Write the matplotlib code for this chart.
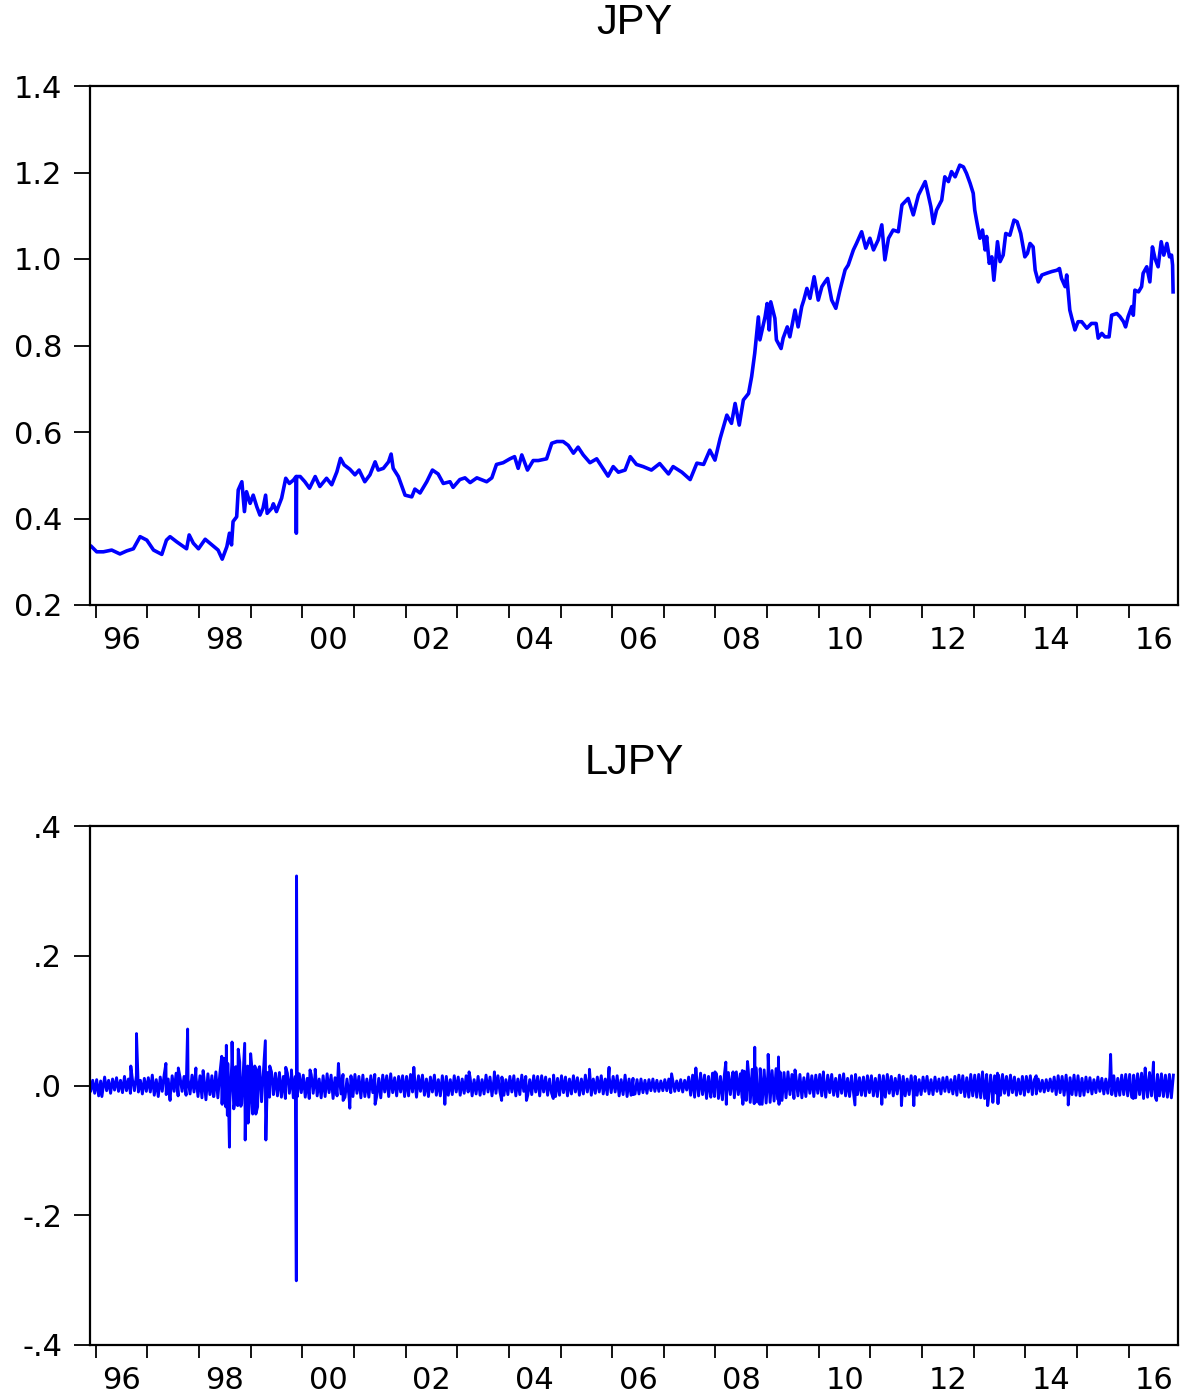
import numpy as np
import matplotlib
matplotlib.use("Agg")
import matplotlib.pyplot as plt
from matplotlib.ticker import NullLocator

# ---------------------------------------------------------------
# JPY level (decimal year, value)
# ---------------------------------------------------------------
jpy_t = [
    1995.92, 1996.02, 1996.15, 1996.31, 1996.47, 1996.60, 1996.73, 1996.86, 1996.99,
    1997.12, 1997.28, 1997.37, 1997.44, 1997.57, 1997.70, 1997.76, 1997.81, 1997.89, 1997.99,
    1998.12, 1998.25, 1998.37, 1998.45, 1998.54, 1998.59, 1998.63, 1998.66, 1998.73, 1998.76,
    1998.83, 1998.88, 1998.92, 1998.99, 1999.05, 1999.12, 1999.18, 1999.24, 1999.29, 1999.32,
    1999.41, 1999.44, 1999.50, 1999.60, 1999.68, 1999.75, 1999.83, 1999.88, 1999.885, 1999.89,
    1999.96, 2000.05, 2000.14, 2000.25, 2000.34, 2000.47, 2000.57, 2000.67, 2000.74, 2000.81,
    2000.92, 2001.02, 2001.10, 2001.21, 2001.31, 2001.41, 2001.47, 2001.57, 2001.67, 2001.72,
    2001.76, 2001.86, 2001.99, 2002.12, 2002.18, 2002.28, 2002.41, 2002.52, 2002.63, 2002.73,
    2002.86, 2002.92, 2003.05, 2003.15, 2003.25, 2003.38, 2003.57, 2003.67, 2003.76, 2003.89,
    2004.02, 2004.11, 2004.18, 2004.25, 2004.36, 2004.47, 2004.57, 2004.73, 2004.83, 2004.93,
    2005.05, 2005.15, 2005.25, 2005.34, 2005.44, 2005.57, 2005.70, 2005.80, 2005.92, 2006.02,
    2006.12, 2006.25, 2006.35, 2006.47, 2006.60, 2006.76, 2006.92, 2007.09, 2007.18, 2007.35,
    2007.51, 2007.64, 2007.77, 2007.89, 2007.99, 2008.09, 2008.22, 2008.31, 2008.38, 2008.46,
    2008.54, 2008.64, 2008.70, 2008.76, 2008.83, 2008.86, 2008.96, 2009.00, 2009.04, 2009.07,
    2009.15, 2009.18, 2009.27, 2009.31, 2009.39, 2009.44, 2009.54, 2009.60, 2009.67, 2009.71,
    2009.77, 2009.83, 2009.91, 2009.99, 2010.06, 2010.12, 2010.17, 2010.25, 2010.33, 2010.41,
    2010.51, 2010.57, 2010.67, 2010.73, 2010.83, 2010.91, 2010.99, 2011.06, 2011.15, 2011.22,
    2011.28, 2011.35, 2011.44, 2011.54, 2011.61, 2011.73, 2011.83, 2011.93, 2012.06, 2012.10,
    2012.17, 2012.22, 2012.28, 2012.38, 2012.44, 2012.51, 2012.57, 2012.64, 2012.73, 2012.80,
    2012.86, 2012.93, 2012.99, 2013.02, 2013.06, 2013.12, 2013.17, 2013.22, 2013.25, 2013.30,
    2013.35, 2013.39, 2013.46, 2013.51, 2013.57, 2013.62, 2013.70, 2013.78, 2013.84, 2013.91,
    2013.99, 2014.04, 2014.09, 2014.15, 2014.19, 2014.25, 2014.32, 2014.41, 2014.51, 2014.61,
    2014.66, 2014.70, 2014.77, 2014.80, 2014.83, 2014.86, 2014.90, 2014.96, 2015.02, 2015.09,
    2015.19, 2015.28, 2015.37, 2015.41, 2015.48, 2015.54, 2015.62, 2015.67, 2015.77, 2015.83,
    2015.90, 2015.94, 2015.99, 2016.06, 2016.09, 2016.12, 2016.19, 2016.25, 2016.28, 2016.35,
    2016.41, 2016.46, 2016.51, 2016.57, 2016.63, 2016.68, 2016.74, 2016.79, 2016.83, 2016.85,
    2016.86,
]
jpy_v = [
    0.335, 0.323, 0.323, 0.327, 0.318, 0.325, 0.330, 0.358, 0.350,
    0.327, 0.317, 0.350, 0.358, 0.346, 0.335, 0.330, 0.362, 0.343, 0.330,
    0.352, 0.339, 0.327, 0.306, 0.335, 0.366, 0.339, 0.393, 0.404, 0.466,
    0.485, 0.416, 0.462, 0.435, 0.454, 0.427, 0.408, 0.424, 0.454, 0.412,
    0.424, 0.434, 0.416, 0.447, 0.493, 0.481, 0.489, 0.497, 0.366, 0.497,
    0.497, 0.485, 0.470, 0.497, 0.474, 0.493, 0.478, 0.508, 0.539, 0.524,
    0.514, 0.501, 0.512, 0.485, 0.501, 0.531, 0.512, 0.516, 0.531, 0.549,
    0.516, 0.497, 0.454, 0.450, 0.468, 0.459, 0.485, 0.512, 0.503, 0.481,
    0.485, 0.472, 0.490, 0.494, 0.483, 0.494, 0.485, 0.494, 0.525, 0.529,
    0.538, 0.543, 0.516, 0.547, 0.512, 0.534, 0.534, 0.538, 0.574, 0.578,
    0.578, 0.569, 0.551, 0.565, 0.547, 0.529, 0.538, 0.520, 0.498, 0.520,
    0.507, 0.512, 0.543, 0.525, 0.520, 0.512, 0.527, 0.503, 0.520, 0.507,
    0.490, 0.528, 0.525, 0.558, 0.535, 0.585, 0.639, 0.620, 0.666, 0.616,
    0.674, 0.689, 0.728, 0.782, 0.866, 0.813, 0.866, 0.897, 0.836, 0.901,
    0.863, 0.813, 0.793, 0.817, 0.843, 0.820, 0.882, 0.843, 0.890, 0.905,
    0.932, 0.909, 0.959, 0.905, 0.936, 0.947, 0.955, 0.905, 0.886, 0.928,
    0.975, 0.986, 1.021, 1.036, 1.063, 1.025, 1.048, 1.021, 1.044, 1.079,
    0.998, 1.048, 1.067, 1.063, 1.125, 1.140, 1.102, 1.148, 1.179, 1.159,
    1.121, 1.082, 1.113, 1.136, 1.190, 1.179, 1.202, 1.190, 1.217, 1.213,
    1.198, 1.175, 1.152, 1.113, 1.086, 1.048, 1.067, 1.021, 1.052, 0.990,
    1.005, 0.951, 1.040, 0.994, 1.009, 1.059, 1.055, 1.090, 1.086, 1.059,
    1.005, 1.013, 1.036, 1.028, 0.974, 0.947, 0.963, 0.967, 0.971, 0.974,
    0.978, 0.955, 0.936, 0.963, 0.921, 0.882, 0.863, 0.836, 0.855, 0.855,
    0.840, 0.851, 0.851, 0.817, 0.828, 0.820, 0.820, 0.870, 0.874, 0.867,
    0.855, 0.843, 0.867, 0.890, 0.870, 0.928, 0.924, 0.936, 0.967, 0.982,
    0.947, 1.028, 1.001, 0.982, 1.040, 1.009, 1.036, 1.005, 1.009, 0.986,
    0.924,
]

# ---------------------------------------------------------------
# LJPY: background band of returns, in percent, 26 readings a year
# ---------------------------------------------------------------
ljpy_1995 = [1.1, -0.9, 0.8, -1.2]
ljpy_1996 = [0.9, -1.6, 0.7, -0.9, 1.3, -0.8, 0.8, -1.2, 1.0, -0.7, 1.2, -0.9, 0.8,
             -1.1, 1.4, -0.8, 1.0, -1.2, 0.9, -0.8, 1.5, -1.0, 0.8, -1.3, 1.1, -0.9]
ljpy_1997 = [1.2, -1.0, 1.6, -1.5, 0.9, -1.7, 1.3, -0.9, 1.7, -1.4, 1.0, -1.8, 1.5,
             -0.9, 1.9, -1.6, 1.2, -0.9, 1.4, -1.5, 1.0, -1.3, 1.6, -1.0, 1.3, -1.7]
ljpy_1998 = [1.5, -1.9, 1.2, -2.2, 1.8, -1.4, 1.5, -1.7, 2.1, -1.9, 1.8, -2.7, 3.0,
             -3.3, 3.4, -2.6, 3.2, -3.6, 2.9, -3.1, 3.6, -2.8, 3.3, -3.4, 3.0, -2.5]
ljpy_1999 = [3.2, -2.8, 2.6, -3.3, 2.9, -2.5, 2.3, -3.0, 2.0, -1.8, 2.1, -1.4, 1.9,
             -1.6, 2.0, -1.8, 1.4, -2.0, 1.9, -1.2, 1.6, -1.9, 1.4, -1.7, 1.8, -1.1]
ljpy_2000 = [1.6, -1.8, 1.1, -2.0, 1.7, -1.2, 1.9, -1.6, 1.0, -1.9, 1.5, -1.7, 1.8,
             -1.1, 1.6, -2.0, 1.2, -1.6, 1.9, -1.3, 1.7, -1.8, 1.0, -1.6, 1.5, -1.7]
ljpy_2001 = [1.7, -1.2, 1.4, -1.9, 1.6, -1.7, 1.0, -1.8, 1.5, -1.1, 1.7, -1.6, 1.1,
             -1.9, 1.6, -1.0, 1.5, -1.7, 1.8, -1.1, 1.2, -1.6, 1.4, -1.0, 1.5, -1.7]
ljpy_2002 = [1.4, -1.6, 1.7, -1.0, 1.3, -1.8, 1.5, -0.9, 1.6, -1.5, 1.0, -1.7, 1.3,
             -1.0, 1.6, -1.5, 0.9, -1.6, 1.5, -1.0, 1.4, -1.5, 0.9, -1.4, 1.5, -1.0]
ljpy_2003 = [1.3, -1.5, 1.0, -1.2, 1.5, -1.0, 1.2, -1.6, 0.9, -1.3, 1.4, -1.5, 0.9,
             -1.3, 1.6, -1.0, 1.3, -1.6, 1.0, -1.2, 1.5, -1.0, 1.3, -1.5, 0.9, -1.4]
ljpy_2004 = [1.4, -1.0, 1.5, -1.6, 1.0, -1.4, 1.6, -0.9, 1.4, -1.5, 0.9, -1.4, 1.5,
             -1.0, 1.4, -1.6, 1.5, -1.0, 1.3, -1.5, 1.0, -1.2, 1.6, -1.7, 1.1, -1.5]
ljpy_2005 = [1.5, -1.1, 1.3, -1.6, 1.0, -1.3, 1.5, -1.0, 1.2, -1.5, 1.0, -1.3, 1.6,
             -1.0, 1.3, -1.5, 1.0, -1.2, 1.3, -1.0, 1.5, -1.3, 1.0, -1.4, 1.3, -1.1]
ljpy_2006 = [1.4, -1.0, 1.5, -1.6, 0.9, -1.4, 1.6, -1.7, 1.0, -1.5, 1.1, -1.3, 0.9,
             -1.3, 1.0, -1.1, 0.8, -1.2, 0.9, -0.8, 1.0, -0.9, 0.8, -0.9, 0.7, -0.8]
ljpy_2007 = [0.9, -0.8, 1.0, -1.1, 0.8, -0.9, 0.7, -0.8, 0.9, -1.0, 0.8, -0.7, 1.3,
             -1.5, 1.6, -1.8, 1.3, -1.6, 1.9, -1.4, 1.6, -2.0, 1.4, -1.6, 1.9, -1.7]
ljpy_2008 = [1.8, -2.0, 1.4, -2.2, 1.7, -1.9, 2.0, -1.4, 1.6, -1.9, 2.1, -1.4, 1.8,
             -2.0, 2.2, -2.3, 2.4, -2.6, 2.5, -2.8, 2.7, -2.5, 2.6, -2.9, 2.4, -2.7]
ljpy_2009 = [2.5, -2.6, 2.3, -2.4, 2.6, -2.2, 2.1, -2.3, 2.0, -1.9, 2.1, -1.4, 1.7,
             -2.0, 1.4, -1.6, 1.7, -1.9, 1.2, -1.7, 1.8, -1.2, 1.5, -1.7, 1.6, -1.2]
ljpy_2010 = [1.7, -1.6, 1.2, -1.8, 1.6, -1.1, 1.7, -1.5, 1.1, -1.7, 1.6, -1.2, 1.8,
             -1.6, 1.1, -1.7, 1.5, -1.2, 1.7, -1.4, 1.2, -1.5, 1.3, -1.6, 1.5, -1.1]
ljpy_2011 = [1.5, -1.6, 1.1, -1.7, 1.6, -1.1, 1.5, -1.8, 1.7, -1.2, 1.4, -1.6, 1.1,
             -1.3, 1.6, -1.1, 1.4, -1.6, 1.0, -1.4, 1.5, -1.0, 1.4, -1.5, 0.9, -1.4]
ljpy_2012 = [1.3, -0.9, 1.4, -1.3, 0.9, -1.4, 1.3, -0.9, 1.0, -1.3, 1.2, -0.9, 1.3,
             -1.0, 0.9, -1.3, 1.4, -1.5, 1.6, -1.1, 1.5, -1.7, 1.2, -1.8, 1.7, -1.6]
ljpy_2013 = [1.6, -1.8, 1.7, -1.9, 1.8, -2.0, 1.7, -1.9, 1.6, -1.8, 1.5, -1.2, 1.6,
             -1.5, 1.7, -1.2, 1.4, -1.5, 1.6, -1.1, 1.3, -1.5, 1.0, -1.3, 1.4, -1.5]
ljpy_2014 = [1.4, -1.0, 1.5, -1.4, 0.9, -1.3, 1.0, -0.9, 0.8, -1.0, 0.9, -0.8, 1.0,
             -0.9, 1.3, -1.4, 1.5, -1.1, 1.4, -1.5, 1.6, -1.7, 1.2, -1.4, 1.6, -1.5]
ljpy_2015 = [1.5, -1.6, 1.1, -1.5, 1.3, -1.0, 1.2, -1.3, 0.9, -1.1, 1.3, -0.9, 1.1,
             -1.3, 1.0, -1.2, 1.3, -1.4, 1.5, -1.6, 1.1, -1.5, 1.6, -1.4, 1.7, -1.6]
ljpy_2016 = [1.7, -1.8, 1.6, -1.9, 1.8, -1.4, 1.9, -2.0, 1.7, -1.8, 2.0, -1.6, 1.8,
             -1.9, 1.7, -1.6, 1.8, -1.7, 1.6, -1.8, 1.7, -1.9, 1.6]

ljpy_years = [ljpy_1995, ljpy_1996, ljpy_1997, ljpy_1998, ljpy_1999, ljpy_2000,
              ljpy_2001, ljpy_2002, ljpy_2003, ljpy_2004, ljpy_2005, ljpy_2006,
              ljpy_2007, ljpy_2008, ljpy_2009, ljpy_2010, ljpy_2011, ljpy_2012,
              ljpy_2013, ljpy_2014, ljpy_2015, ljpy_2016]

# large single-day moves in LJPY (decimal year, return)
spike_t = [
    1996.12, 1996.68, 1996.79, 1997.36, 1997.44, 1997.60, 1997.78, 1997.94, 1998.08, 1998.28,
    1998.44, 1998.45, 1998.48, 1998.53, 1998.55, 1998.59, 1998.64, 1998.70, 1998.76, 1998.81,
    1998.885, 1998.895, 1998.95, 1999.00, 1999.04, 1999.08, 1999.10, 1999.15, 1999.21,
    1999.285, 1999.295, 1999.37, 1999.44, 1999.68, 1999.79, 1999.885, 1999.889,
    2000.15, 2000.25, 2000.70, 2000.79, 2000.92, 2001.41,
    2002.16, 2002.76, 2003.23, 2003.72, 2003.86, 2004.34, 2004.86, 2005.56, 2005.94, 2006.41,
    2007.15, 2007.62, 2007.91, 2007.99, 2008.20, 2008.21, 2008.34, 2008.52, 2008.53, 2008.62,
    2008.76, 2008.77, 2008.86, 2009.02, 2009.22, 2009.23, 2009.54,
    2010.09, 2010.70, 2011.22, 2011.60, 2011.84, 2013.17, 2013.27, 2013.37, 2013.46, 2013.47,
    2014.21, 2014.83, 2015.65, 2016.09, 2016.32, 2016.48, 2016.54,
]
spike_v = [
    -0.017, 0.030, 0.080, 0.034, -0.023, 0.027, 0.087, 0.027, 0.023, -0.017,
    0.045, -0.029, 0.042, 0.062, -0.046, -0.095, 0.067, -0.023, 0.056, -0.032,
    0.065, -0.084, -0.058, 0.049, -0.044, 0.030, -0.044, 0.024, -0.023,
    0.069, -0.084, 0.030, -0.014, 0.028, 0.024, -0.301, 0.323,
    0.024, 0.025, 0.034, -0.023, -0.035, -0.029,
    0.028, -0.029, 0.021, 0.021, -0.023, -0.023, -0.020, 0.025, 0.028, -0.014,
    0.018, 0.027, -0.018, 0.021, 0.036, -0.029, 0.021, 0.023, -0.029, 0.037,
    0.059, -0.026, -0.029, 0.048, 0.044, -0.029, 0.024,
    0.021, -0.030, -0.029, -0.031, -0.031, 0.021, -0.031, -0.026, 0.019, -0.028,
    0.015, -0.030, 0.048, -0.020, 0.027, 0.036, -0.023,
]

# ---------------------------------------------------------------
# assemble the LJPY series
# ---------------------------------------------------------------
band_t, band_v = [], []
for k, vals in enumerate(ljpy_years):
    year = 1995 + k
    start = 22 if year == 1995 else 0
    for i, v in enumerate(vals):
        band_t.append(year + (start + i + 0.5) / 26)
        band_v.append(v / 100)

lj_t = np.array(band_t + spike_t)
lj_v = np.array(band_v + spike_v)
order = np.argsort(lj_t, kind="stable")
lj_t, lj_v = lj_t[order], lj_v[order]

BLUE = "#0000ff"
W, H = 1190, 1397

fig = plt.figure(figsize=(W / 100, H / 100), dpi=100)
ax1 = fig.add_axes([90 / W, 1 - 605 / H, 1088 / W, 519 / H])
ax2 = fig.add_axes([90 / W, 1 - 1345 / H, 1088 / W, 519 / H])


def style_axis(ax, yticks, ylabels):
    ax.set_xlim(1995.89, 2016.955)
    ax.set_ylim(yticks[0], yticks[-1])
    years = list(range(1996, 2017))
    ax.set_xticks(years)
    ax.set_xticklabels([])
    ax.set_xticks([y + 0.5 for y in years[::2]], minor=True)
    ax.set_xticklabels([f"{y % 100:02d}" for y in years[::2]], minor=True)
    ax.tick_params(axis="x", which="major", direction="out", length=9, width=1.3)
    ax.tick_params(axis="x", which="minor", length=0, pad=15, labelsize=22)
    ax.set_yticks(yticks, labels=ylabels)
    ax.yaxis.set_minor_locator(NullLocator())
    ax.tick_params(axis="y", direction="out", length=11.5, width=1.3, pad=8.5,
                   labelsize=22)
    for s in ax.spines.values():
        s.set_linewidth(1.6)


ax1.plot(jpy_t, jpy_v, color=BLUE, lw=2.6)
style_axis(ax1, [0.2, 0.4, 0.6, 0.8, 1.0, 1.2, 1.4],
           ["0.2", "0.4", "0.6", "0.8", "1.0", "1.2", "1.4"])

ax2.plot(lj_t, lj_v, color=BLUE, lw=2.1)
style_axis(ax2, [-0.4, -0.2, 0.0, 0.2, 0.4], ["-.4", "-.2", ".0", ".2", ".4"])

fig.text(634 / W, 1 - 23 / H, "JPY", ha="center", va="center",
         family="Liberation Sans", fontsize=30)
fig.text(634 / W, 1 - 763 / H, "LJPY", ha="center", va="center",
         family="Liberation Sans", fontsize=30)

fig.savefig("out.png", dpi=100, facecolor="white")
